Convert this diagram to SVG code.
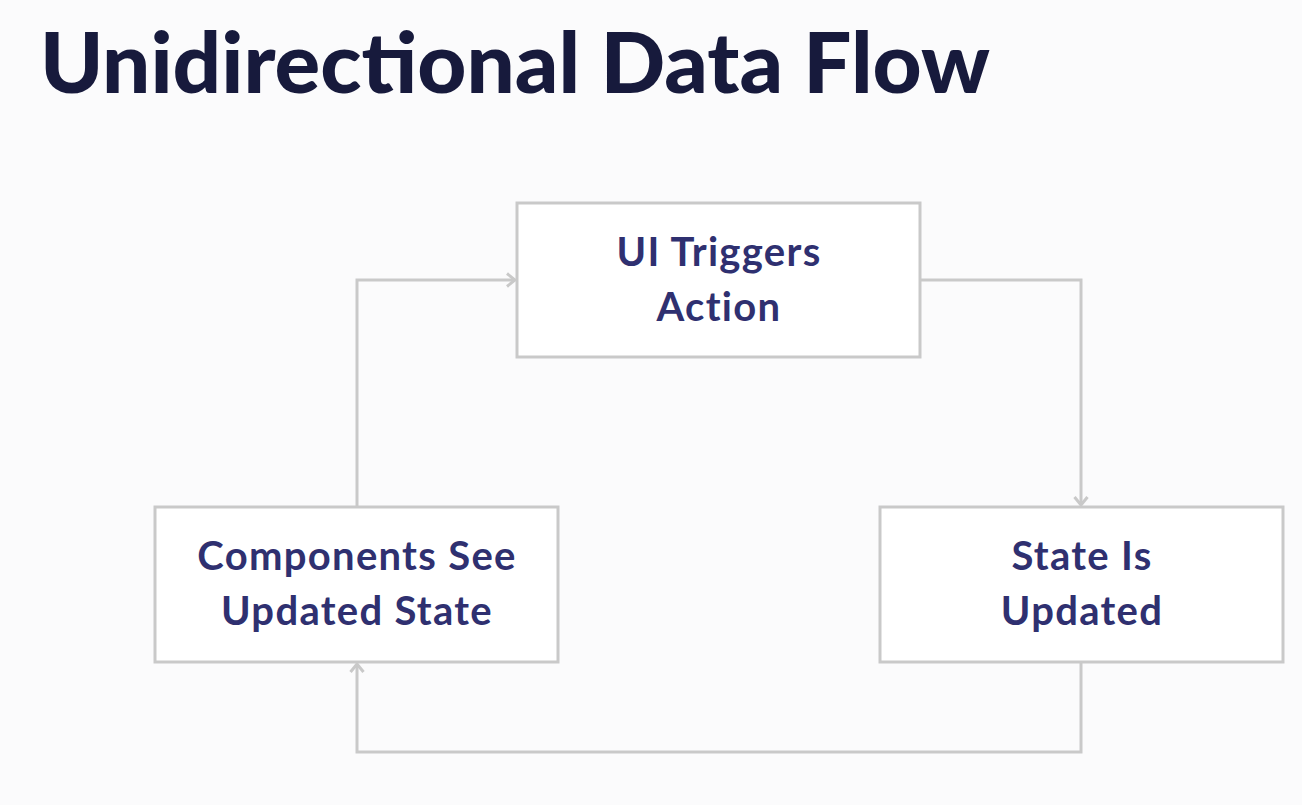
<svg xmlns="http://www.w3.org/2000/svg" width="1302" height="805" viewBox="0 0 1302 805">
<defs>
<style>
.title{font-family:Lato,"Open Sans","Liberation Sans",sans-serif;font-weight:900;font-size:84px;fill:#171a3c}
.box{fill:#ffffff;stroke:#c9c9c9;stroke-width:3}
.lbl{font-family:Lato,"Open Sans","Liberation Sans",sans-serif;font-weight:700;font-size:40px;letter-spacing:1.3px;fill:#2f3070;text-anchor:middle}
.conn{fill:none;stroke:#c9c9c9;stroke-width:3}
</style>
<marker id="arr" viewBox="0 0 16 16" refX="14" refY="8" markerWidth="16" markerHeight="16" markerUnits="userSpaceOnUse" orient="auto">
<path d="M6,1.5 L14,8 L6,14.5" fill="none" stroke="#c9c9c9" stroke-width="3"/>
</marker>
</defs>
<rect width="1302" height="805" fill="#fbfbfc"/>
<text class="title" x="40" y="93" textLength="950" lengthAdjust="spacingAndGlyphs">Unidirectional Data Flow</text>
<g id="connectors">
<path class="conn" d="M920,280 H1081 V505" marker-end="url(#arr)"/>
<path class="conn" d="M1081,662 V752 H357 V664" marker-end="url(#arr)"/>
<path class="conn" d="M357,507 V280 H515" marker-end="url(#arr)"/>
</g>
<g id="node-ui-triggers">
<rect class="box" x="517" y="203" width="403" height="154"/>
<text class="lbl" x="719" y="266">UI Triggers</text>
<text class="lbl" x="719" y="321">Action</text>
</g>
<g id="node-state-updated">
<rect class="box" x="880" y="507" width="403" height="155"/>
<text class="lbl" x="1082" y="570">State Is</text>
<text class="lbl" x="1082" y="625">Updated</text>
</g>
<g id="node-components">
<rect class="box" x="155" y="507" width="403" height="155"/>
<text class="lbl" x="357" y="570">Components See</text>
<text class="lbl" x="357" y="625">Updated State</text>
</g>
</svg>
